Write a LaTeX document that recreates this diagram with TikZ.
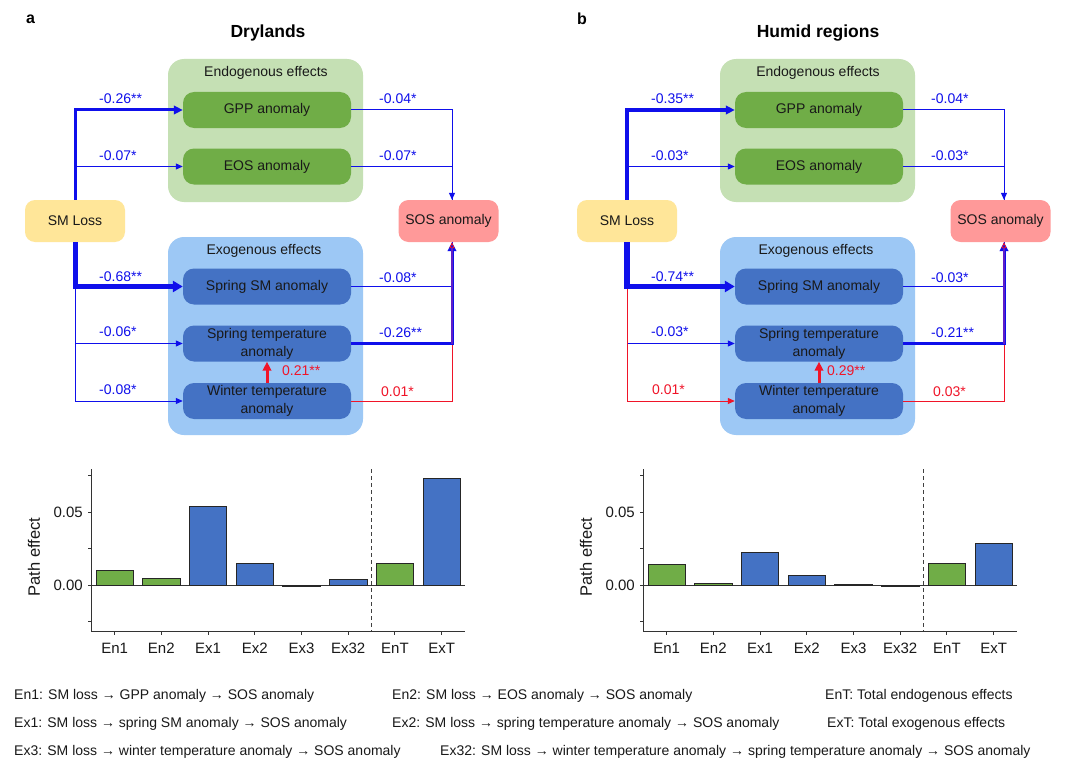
\documentclass[tikz,border=0pt]{standalone}
\usepackage{fontspec}
\setmainfont{Liberation Sans}
\usetikzlibrary{arrows.meta,calc}
\definecolor{endobg}{RGB}{197,224,180}
\definecolor{exobg}{RGB}{157,200,245}
\definecolor{gbox}{RGB}{112,173,71}
\definecolor{bbox}{RGB}{68,114,196}
\definecolor{smc}{RGB}{255,230,153}
\definecolor{sosc}{RGB}{255,153,153}
\definecolor{pblue}{RGB}{15,15,235}
\definecolor{pred}{RGB}{240,20,40}
\definecolor{ppurp}{RGB}{95,30,200}
\definecolor{txt}{RGB}{25,25,25}
\tikzset{
 f14/.style={font=\fontsize{14}{18}\selectfont},
 bgbox/.style={rounded corners=16pt, minimum width=195, inner sep=0},
 vbox/.style={rounded corners=11pt, minimum width=168, minimum height=36, inner sep=0, align=center, f14, text=txt},
 endbox/.style={rounded corners=10pt, minimum width=100, minimum height=42, inner sep=0, f14, text=txt},
 bl/.style={draw=pblue, line width=1pt},
 rd/.style={draw=pred, line width=1pt},
 tipS/.style={-{Triangle[length=7pt,width=6pt]}},
 tipM/.style={-{Triangle[length=9pt,width=8.5pt]}},
 tipL/.style={-{Triangle[length=10pt,width=11pt]}},
 lab/.style={anchor=west, inner sep=0, f14, text=pblue},
 rlab/.style={lab, text=pred},
 axisline/.style={draw=black!80, line width=0.9pt},
 barst/.style={draw=black!85, line width=0.8pt},
 ticklab/.style={font=\fontsize{15}{17}\selectfont, inner sep=0, text=txt},
 legend/.style={anchor=west, inner sep=0, font=\fontsize{14}{16}\selectfont, text=txt},
}
\newcommand\pathnodes{%
 \node[bgbox, fill=endobg, minimum height=143] (endo) at (265.5,130.5) {};
 \node[f14, inner sep=0, text=txt] (endot) at (266,73) {Endogenous effects};
 \node[vbox, fill=gbox] (gpp) at (267,110) {GPP anomaly};
 \node[vbox, fill=gbox] (eos) at (267,166.5) {EOS anomaly};
 \node[bgbox, fill=exobg, minimum height=198] (exo) at (265.5,336) {};
 \node[f14, inner sep=0, text=txt] (exot) at (264,251) {Exogenous effects};
 \node[vbox, fill=bbox] (ssm) at (267,286.5) {Spring SM anomaly};
 \node[vbox, fill=bbox] (stemp) at (267,343.5) {Spring temperature\\anomaly};
 \node[vbox, fill=bbox] (wtemp) at (267,401) {Winter temperature\\anomaly};
 \node[endbox, fill=smc] (sm) at (75,221) {SM Loss};
 \node[endbox, fill=sosc] (sos) at (448.5,221) {SOS anomaly};
 \coordinate (rx) at (452,221);
}
\newcommand\rightside{%
 \draw[bl, tipS] (gpp.east) -| (rx |- sos.north);
 \draw[bl] (eos.east) -| (rx |- sos.north);
 \draw[rd] (wtemp.east) -| (rx |- sos.south);
 \draw[bl] (ssm.east) -| (rx |- sos.south);
 \draw[bl, line width=3pt, tipM] (stemp.east) -| (rx |- sos.south);
 \draw[draw=ppurp, line width=2pt, -{Triangle[length=6pt,width=5pt,fill=pblue,color=pred,line width=0.8pt]}] (rx |- stemp.east) -- (rx |- sos.south);
 \draw[draw=pred, line width=3pt, tipM] (wtemp.north) -- (stemp.south);
}
\newcommand\pathchart[1]{%
 \draw[axisline] (91.7,585) -- (465,585);
 \foreach \v/\c [count=\i from 0] in {#1} {
   \pgfmathsetmacro\cx{114.6+46.72*\i}
   \draw[barst, fill=\c] (\cx-18.7,585) rectangle (\cx+18.7,{585-(\v)*1460});
   \draw[axisline] (\cx,631) -- (\cx,635);
 }
 \draw[axisline] (91.7,469) -- (91.7,631) -- (465,631);
 \foreach \yy in {475.5,512,548.5,585,621.5} { \draw[axisline] (88.2,\yy) -- (91.7,\yy); }
 \draw[draw=black!75, line width=0.9pt, dash pattern=on 4pt off 3pt] (371.5,469) -- (371.5,631);
 \node[ticklab, anchor=east] (t05) at (83,512) {0.05};
 \node[ticklab, anchor=east] (t00) at (83,585) {0.00};
 \node[ticklab, font=\fontsize{16.5}{18}\selectfont, rotate=90] (ylab) at (34,557) {Path effect};
 \foreach \n [count=\i from 0] in {En1,En2,Ex1,Ex2,Ex3,Ex32,EnT,ExT} {
   \pgfmathsetmacro\cx{114.6+46.72*\i}
   \node[ticklab] (xl\i) at (\cx,648) {\n};
 }
}
\begin{document}
\begin{tikzpicture}[x=1pt,y=-1pt]
\useasboundingbox[fill=white] (0,0) rectangle (1080,776);

% ---------------- panel a ----------------
\begin{scope}[name prefix=a-]
 \node[font=\fontsize{16}{18}\selectfont\bfseries, inner sep=0] (panel) at (30.5,19) {a};
 \node[font=\fontsize{17.5}{20}\selectfont\bfseries, inner sep=0] (title) at (268,33) {Drylands};
 \pathnodes
 % left side
 \draw[bl, tipS] (sm.south) |- (stemp.west);
 \draw[bl, tipS] (sm.south) |- (wtemp.west);
 \draw[bl, line width=5pt, tipL] (sm.south) |- (ssm.west);
 \draw[bl, line width=3pt, tipM] (sm.north) |- (gpp.west);
 \draw[bl, tipS] (sm.north) |- (eos.west);
 \rightside
 % labels
 \node[lab] (l1) at (99,99) {-0.26**};
 \node[lab] (l2) at (99,156) {-0.07*};
 \node[lab] (l3) at (379,99) {-0.04*};
 \node[lab] (l4) at (379,156) {-0.07*};
 \node[lab] (l5) at (99,277) {-0.68**};
 \node[lab] (l6) at (99,332) {-0.06*};
 \node[lab] (l7) at (99,390) {-0.08*};
 \node[lab] (l8) at (379,278) {-0.08*};
 \node[lab] (l9) at (379,333) {-0.26**};
 \node[rlab] (l10) at (381,392) {0.01*};
 \node[rlab] (l11) at (282,371) {0.21**};
 \pathchart{0.0103/gbox,0.0048/gbox,0.054/bbox,0.0151/bbox,-0.0012/bbox,0.0041/bbox,0.015/gbox,0.0733/bbox}
\end{scope}

% ---------------- panel b ----------------
\begin{scope}[xshift=552pt, name prefix=b-]
 \node[font=\fontsize{16}{18}\selectfont\bfseries, inner sep=0] (panel) at (30,19) {b};
 \node[font=\fontsize{17.5}{20}\selectfont\bfseries, inner sep=0] (title) at (266,33) {Humid regions};
 \pathnodes
 % left side
 \draw[bl, tipS] (sm.south) |- (stemp.west);
 \draw[rd, tipS] (sm.south) |- (wtemp.west);
 \draw[bl, line width=5.5pt, tipL] (sm.south) |- (ssm.west);
 \draw[bl, line width=4pt, tipM] (sm.north) |- (gpp.west);
 \draw[bl, tipS] (sm.north) |- (eos.west);
 \rightside
 % labels
 \node[lab] (l1) at (99,99) {-0.35**};
 \node[lab] (l2) at (99,156) {-0.03*};
 \node[lab] (l3) at (379,99) {-0.04*};
 \node[lab] (l4) at (379,156) {-0.03*};
 \node[lab] (l5) at (99,277) {-0.74**};
 \node[lab] (l6) at (99,332) {-0.03*};
 \node[rlab] (l7) at (100,390) {0.01*};
 \node[lab] (l8) at (379,278) {-0.03*};
 \node[lab] (l9) at (379,333) {-0.21**};
 \node[rlab] (l10) at (381,392) {0.03*};
 \node[rlab] (l11) at (275,371) {0.29**};
 \pathchart{0.0144/gbox,0.0008/gbox,0.0226/bbox,0.0068/bbox,0.0004/bbox,-0.0009/bbox,0.0151/gbox,0.0288/bbox}
\end{scope}

% ---------------- legend ----------------
\node[legend] (en1) at (14,696) {En1: SM loss → GPP anomaly → SOS anomaly};
\node[legend] (en2) at (392,696) {En2: SM loss → EOS anomaly → SOS anomaly};
\node[legend] (ent) at (825,696) {EnT: Total endogenous effects};
\node[legend] (ex1) at (14,724) {Ex1: SM loss → spring SM anomaly → SOS anomaly};
\node[legend] (ex2) at (392,724) {Ex2: SM loss → spring temperature anomaly → SOS anomaly};
\node[legend] (ext) at (827,724) {ExT: Total exogenous effects};
\node[legend] (ex3) at (14,752) {Ex3: SM loss → winter temperature anomaly → SOS anomaly};
\node[legend] (ex32) at (440,752) {Ex32: SM loss → winter temperature anomaly → spring temperature anomaly → SOS anomaly};
\end{tikzpicture}
\end{document}
